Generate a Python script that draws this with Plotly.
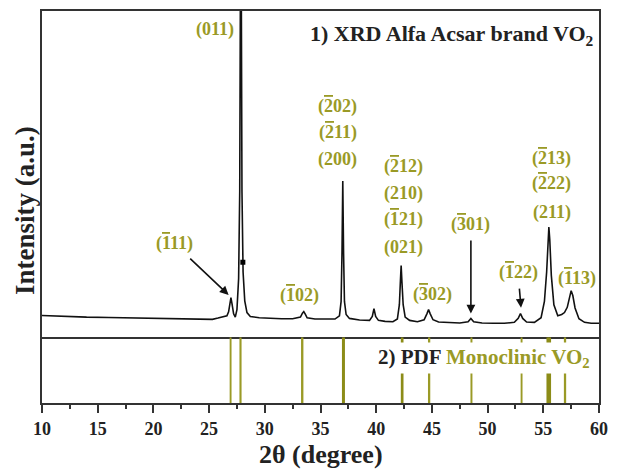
import plotly.graph_objects as go

# ---- measured XRD pattern (2-theta in degrees, intensity in a.u.) ----
two_theta = [10, 12, 14, 16, 18, 20, 22, 24, 25.3, 25.8, 26.3, 26.6, 26.75, 26.88,
             26.96, 27.05, 27.2, 27.35, 27.5, 27.65, 27.75, 27.85, 27.95, 28.05,
             28.2, 28.4, 28.7, 29.5, 30.5, 31.5, 32.5, 33.2, 33.38, 33.5, 33.62,
             33.8, 34.5, 35.5, 36.3, 36.7, 36.85, 36.93, 37.0, 37.07, 37.15, 37.3,
             37.6, 38.5, 39.4, 39.65, 39.8, 39.95, 40.2, 40.8, 41.5, 41.9, 42.08,
             42.17, 42.24, 42.31, 42.42, 42.6, 43.0, 43.7, 44.3, 44.55, 44.7, 44.85,
             45.1, 45.6, 46.5, 47.5, 48.25, 48.5, 48.75, 49.5, 50.5, 51.5, 52.4,
             52.75, 52.95, 53.15, 53.5, 54.2, 54.8, 55.1, 55.3, 55.42, 55.5, 55.58,
             55.72, 55.95, 56.3, 56.65, 56.9, 57.15, 57.35, 57.5, 57.65, 57.85,
             58.2, 58.7, 59.3, 60]
intensity = [67, 64, 62, 61, 60, 58, 57, 55, 55, 59, 62, 66, 78, 108,
             122, 104, 72, 62, 85, 180, 450, 1500, 450, 200,
             112, 76, 64, 60, 58, 57, 57, 62, 74, 79, 72,
             60, 56, 55, 56, 66, 110, 260, 479, 260, 110, 70,
             58, 53, 52, 64, 88, 64, 52, 49, 48, 56, 100,
             170, 220, 170, 100, 62, 52, 48, 54, 72, 85, 72,
             54, 47, 45, 44, 48, 58, 48, 44, 43, 43, 46,
             58, 73, 58, 47, 46, 60, 110, 200, 300, 338, 300,
             190, 100, 66, 70, 76, 92, 128, 143, 128, 90,
             57, 46, 43, 43]

# small feature marked on the flank of the (011) reflection
dot_two_theta = [28.03]
dot_intensity = [230]

# ---- reference stick pattern: monoclinic VO2 (PDF) ----
pdf_two_theta = [26.93, 27.82, 33.36, 37.06, 42.33, 44.75, 48.55, 53.05, 55.4, 55.58, 56.95]
pdf_rel_intensity = [30, 45, 60, 100, 80, 55, 35, 30, 75, 75, 55]

# ---- reflections (Miller indices, a leading "-" marks an overbar) ----
peak_011 = 27.85
peak_m111 = 26.75
peak_m102 = 33.5
peak_200 = 37.0
peak_021 = 42.24
peak_m302 = 44.7
peak_m301 = 48.5
peak_m122 = 53.0
peak_211 = 55.5
peak_m113 = 57.5

OLIVE = "#9a9a26"
DARK = "#222222"
FONT = "Liberation Serif"


def hkl(code):
    """'-212' -> '(2̄12)' with the negative index overlined."""
    if code.startswith("-"):
        return ("(<span style='text-decoration:overline'>" + code[1] + "</span>"
                + code[2:] + ")")
    return "(" + code + ")"


fig = go.Figure()

# measured pattern
fig.add_trace(go.Scatter(
    x=two_theta, y=intensity, mode="lines",
    line=dict(color="#111111", width=1.6), xaxis="x", yaxis="y",
    hoverinfo="skip", showlegend=False))

fig.add_trace(go.Scatter(
    x=dot_two_theta, y=dot_intensity, mode="markers",
    marker=dict(symbol="square", size=5, color="#000000"),
    xaxis="x", yaxis="y", hoverinfo="skip", showlegend=False))

# PDF sticks, width scaled by relative intensity
for pos, rel in zip(pdf_two_theta, pdf_rel_intensity):
    fig.add_trace(go.Scatter(
        x=[pos, pos], y=[0, 1], mode="lines",
        line=dict(color=OLIVE if rel < 70 else "#8c8c18", width=1.4 + 1.6 * rel / 100),
        xaxis="x2", yaxis="y2", hoverinfo="skip", showlegend=False))

split = 0.1675

axis_common = dict(showline=True, linecolor="#333333", linewidth=2,
                   zeroline=False, showgrid=False)

fig.update_layout(
    width=617, height=471,
    margin=dict(l=42, r=12, t=9, b=68),
    paper_bgcolor="white", plot_bgcolor="white",
    font=dict(family=FONT, color=DARK, size=18, weight="bold"),
    xaxis=dict(domain=[0, 1], anchor="y", range=[10, 60], showticklabels=False,
               ticks="", mirror=True, **axis_common),
    yaxis=dict(domain=[split, 1], anchor="x", range=[0, 1000], showticklabels=False,
               ticks="", mirror=True, **axis_common),
    xaxis2=dict(domain=[0, 1], anchor="y2", range=[10, 60], matches="x",
                tick0=10, dtick=5, ticks="outside", ticklen=8, tickwidth=2,
                tickcolor="#333333", mirror=False,
                minor=dict(dtick=2.5, ticks="outside", ticklen=4, tickwidth=2,
                           tickcolor="#333333"),
                tickfont=dict(family=FONT, size=18, color=DARK, weight="bold"),
                **axis_common),
    yaxis2=dict(domain=[0, split], anchor="x2", range=[0, 1], showticklabels=False,
                ticks="", mirror=True, **axis_common),
)

ann = []

# axis titles
ann.append(dict(text="2θ (degree)", xref="paper", yref="paper", x=0.5, y=0,
                yshift=-51, showarrow=False, xanchor="center", yanchor="middle",
                font=dict(family=FONT, size=26, color=DARK, weight="bold")))
ann.append(dict(text="Intensity (a.u.)", xref="paper", yref="paper", x=0, y=0.49,
                xshift=-17, showarrow=False, textangle=-90, xanchor="center",
                yanchor="middle",
                font=dict(family=FONT, size=27, color=DARK, weight="bold")))

# panel captions
ann.append(dict(text="1) XRD Alfa Acsar brand VO<sub>2</sub>", xref="paper", yref="paper",
                x=1, y=1, xshift=-3, yshift=-24, showarrow=False, xanchor="right",
                yanchor="middle",
                font=dict(family=FONT, size=22, color=DARK, weight="bold")))
ann.append(dict(text="2) PDF <span style='color:%s'>Monoclinic VO<sub>2</sub></span>" % OLIVE,
                xref="paper", yref="paper", x=1, y=split, xshift=-6, yshift=-21,
                showarrow=False, xanchor="right", yanchor="middle",
                bgcolor="white", borderpad=2,
                font=dict(family=FONT, size=21, color=DARK, weight="bold")))

lab_font = dict(family=FONT, size=18, color=OLIVE, weight="bold")


def label(text, x, y, xshift=0, xanchor="center"):
    ann.append(dict(text=text, x=x, y=y, xref="x", yref="y", xshift=xshift,
                    showarrow=False, xanchor=xanchor, yanchor="middle", font=lab_font))


def arrow_label(text, x, y, ax, ay):
    ann.append(dict(text=text, x=x, y=y, xref="x", yref="y", ax=ax, ay=ay,
                    showarrow=True, arrowhead=2, arrowsize=1.1, arrowwidth=1.6,
                    arrowcolor="#111111", startstandoff=4, font=lab_font))


label(hkl("011"), peak_011, 942, xshift=-5, xanchor="right")
for code, y in zip(["-202", "-211", "200"], [707, 628, 546]):
    label(hkl(code), peak_200, y, xshift=-5)
for code, y in zip(["-212", "210", "-121", "021"], [524, 442, 360, 274]):
    label(hkl(code), peak_021, y, xshift=2)
for code, y in zip(["-213", "-222", "211"], [549, 470, 384]):
    label(hkl(code), peak_211, y, xshift=3)
label(hkl("-102"), peak_m102, 128, xshift=-4)
label(hkl("-302"), peak_m302, 131, xshift=4)
label(hkl("-113"), peak_m113, 180, xshift=6)

arrow_label(hkl("-111"), peak_m111, 130, -54, -51)
arrow_label(hkl("-301"), peak_m301, 73, 0, -89)
arrow_label(hkl("-122"), peak_m122, 91, -3, -35)

fig.update_layout(annotations=ann)

fig.write_html("out.html")
